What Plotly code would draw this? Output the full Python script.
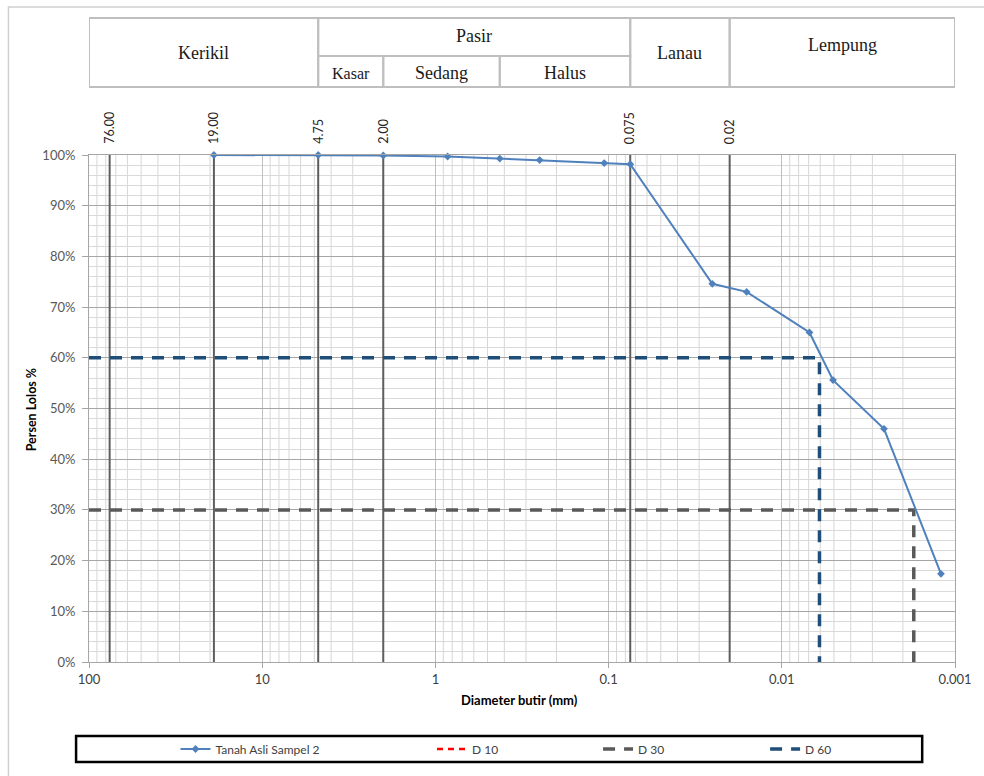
import math
import plotly.graph_objects as go

# ---------------- data ----------------
diam_mm = [19.0, 4.75, 2.0, 0.85, 0.425, 0.25, 0.106, 0.075, 0.0252, 0.01595, 0.00692, 0.00506, 0.00257, 0.001205]
pass_pct = [100.0, 100.0, 99.9, 99.7, 99.3, 99.0, 98.4, 98.2, 74.6, 73.0, 65.0, 55.6, 46.0, 17.4]

bound_mm = [76.0, 19.0, 4.75, 2.0, 0.075, 0.02]
bound_labels = ["76.00", "19.00", "4.75", "2.00", "0.075", "0.02"]

d60_mm = 0.00606
d30_mm = 0.00173

x_tick_vals = [100, 10, 1, 0.1, 0.01, 0.001]
x_tick_text = ["100", "10", "1", "0.1", "0.01", "0.001"]

soil_names = ["Kerikil", "Pasir", "Lanau", "Lempung"]
soil_from = [100, 4.75, 0.075, 0.02]
soil_to = [4.75, 0.075, 0.02, 0.001]
sand_names = ["Kasar", "Sedang", "Halus"]
sand_from = [4.75, 2.0, 0.425]
sand_to = [2.0, 0.425, 0.075]

# ---------------- figure ----------------
W, H = 984, 776
L, R, T, B = 89, 24, 155, 114
PW, PH = W - L - R, H - T - B


def px_x(px):
    return (px - L) / PW


def px_y(py):
    return (H - B - py) / PH


fig = go.Figure()

# boundary vertical lines
for b in bound_mm:
    fig.add_trace(go.Scatter(x=[b, b], y=[0, 100], mode="lines",
                             line=dict(color="#5E5E5E", width=2),
                             showlegend=False, hoverinfo="skip"))

fig.add_trace(go.Scatter(x=[None], y=[None], mode="lines", name="D 10",
                         line=dict(color="#FF0000", width=2.5, dash="6px,5px"),
                         legend="legend2"))
fig.add_trace(go.Scatter(x=[100, d30_mm, d30_mm], y=[30, 30, 0], mode="lines", name="D 30",
                         line=dict(color="#595959", width=3.5, dash="12px,9px"),
                         legend="legend3"))
fig.add_trace(go.Scatter(x=[100, d60_mm, d60_mm], y=[60, 60, 0], mode="lines", name="D 60",
                         line=dict(color="#1F4E79", width=3.5, dash="12px,9px"),
                         legend="legend4"))

fig.add_trace(go.Scatter(x=diam_mm, y=pass_pct, mode="lines+markers",
                         name="Tanah Asli Sampel 2",
                         line=dict(color="#4F81BD", width=2),
                         marker=dict(symbol="diamond", size=6, color="#4F81BD"),
                         cliponaxis=False, legend="legend"))

minor_x = [k * 10 ** e for e in range(-3, 2) for k in range(2, 10)]

fig.update_xaxes(type="log", range=[2, -3],
                 tickmode="array", tickvals=x_tick_vals, ticktext=x_tick_text,
                 ticks="outside", ticklen=5, tickcolor="#A6A6A6",
                 showgrid=True, gridcolor="#BFBFBF", gridwidth=1,
                 showline=True, linecolor="#A6A6A6", linewidth=1, mirror=True,
                 zeroline=False, layer="above traces",
                 tickfont=dict(family="Lato", size=13, color="#404040"))
fig.update_yaxes(range=[0, 100], dtick=10, ticksuffix="%",
                 ticks="outside", ticklen=6, tickcolor="#A6A6A6",
                 showgrid=True, gridcolor="#A6A6A6", gridwidth=1,
                 minor=dict(dtick=2, showgrid=True, gridcolor="#DADADA", gridwidth=1, ticks=""),
                 showline=True, linecolor="#A6A6A6", linewidth=1, mirror=True,
                 zeroline=False, ticklabelstandoff=4,
                 tickfont=dict(family="Lato", size=13, color="#595959"))

shapes = []
# minor vertical grid lines (2..9 in each decade)
for v in minor_x:
    shapes.append(dict(type="line", xref="x", yref="paper", x0=v, x1=v, y0=0, y1=1,
                       line=dict(color="#D6D6D6", width=1), layer="below"))
# outer light border
shapes.append(dict(type="rect", xref="paper", yref="paper",
                   x0=px_x(8), x1=px_x(W + 20), y0=px_y(H + 20), y1=px_y(7),
                   line=dict(color="#D0D0D0", width=1.5), layer="below"))
# header table
t_top, t_mid, t_bot = px_y(18), px_y(56), px_y(87)
tbl_line = dict(color="#BFBFBF", width=2)
for name, a, b in zip(soil_names, soil_from, soil_to):
    y0 = t_mid if name == "Pasir" else t_bot
    shapes.append(dict(type="rect", xref="x", yref="paper", x0=a, x1=b,
                       y0=y0, y1=t_top, line=tbl_line))
for name, a, b in zip(sand_names, sand_from, sand_to):
    shapes.append(dict(type="rect", xref="x", yref="paper", x0=a, x1=b,
                       y0=t_bot, y1=t_mid, line=tbl_line))
# legend box
shapes.append(dict(type="rect", xref="paper", yref="paper",
                   x0=px_x(76), x1=px_x(927), y0=px_y(762), y1=px_y(736),
                   line=dict(color="#000000", width=2.5)))

annotations = []
serif = dict(family="Liberation Serif", size=18, color="#1a1a1a")
soil_text_y = {"Kerikil": px_y(53), "Pasir": px_y(36), "Lanau": px_y(53), "Lempung": px_y(45)}
for name, a, b in zip(soil_names, soil_from, soil_to):
    annotations.append(dict(x=(math.log10(a) + math.log10(b)) / 2, y=soil_text_y[name],
                            xref="x", yref="paper", text=name, showarrow=False,
                            font=serif, xanchor="center", yanchor="middle"))
for name, a, b in zip(sand_names, sand_from, sand_to):
    f = dict(serif)
    if name == "Kasar":
        f["size"] = 16
    annotations.append(dict(x=(math.log10(a) + math.log10(b)) / 2, y=px_y(73),
                            xref="x", yref="paper", text=name, showarrow=False,
                            font=f, xanchor="center", yanchor="middle"))
for b, lab in zip(bound_mm, bound_labels):
    annotations.append(dict(x=math.log10(b), y=px_y(146), xref="x", yref="paper",
                            text=lab, textangle=-90, showarrow=False,
                            xanchor="center", yanchor="bottom",
                            font=dict(family="Lato", size=12.5, color="#262626")))
annotations.append(dict(x=px_x(31), y=px_y(410), xref="paper", yref="paper",
                        text="<b>Persen Lolos %</b>", textangle=-90, showarrow=False,
                        xanchor="center", yanchor="middle",
                        font=dict(family="Lato", size=12.5, color="#000000")))
annotations.append(dict(x=px_x(522), y=px_y(700), xref="paper", yref="paper",
                        text="<b>Diameter butir (mm)</b>", showarrow=False,
                        xanchor="center", yanchor="middle",
                        font=dict(family="Lato", size=13, color="#000000")))

leg_common = dict(orientation="h", yanchor="middle", y=px_y(749), xanchor="left",
                  bgcolor="rgba(0,0,0,0)", borderwidth=0,
                  font=dict(family="Lato", size=12, color="#404040"))

fig.update_layout(
    width=W, height=H,
    margin=dict(l=L, r=R, t=T, b=B, pad=0),
    paper_bgcolor="white", plot_bgcolor="white",
    shapes=shapes, annotations=annotations,
    legend=dict(x=px_x(176), **leg_common),
    legend2=dict(x=px_x(434), **leg_common),
    legend3=dict(x=px_x(601), **leg_common),
    legend4=dict(x=px_x(769), **leg_common),
    font=dict(family="Lato"),
)

fig.write_html("out.html")
